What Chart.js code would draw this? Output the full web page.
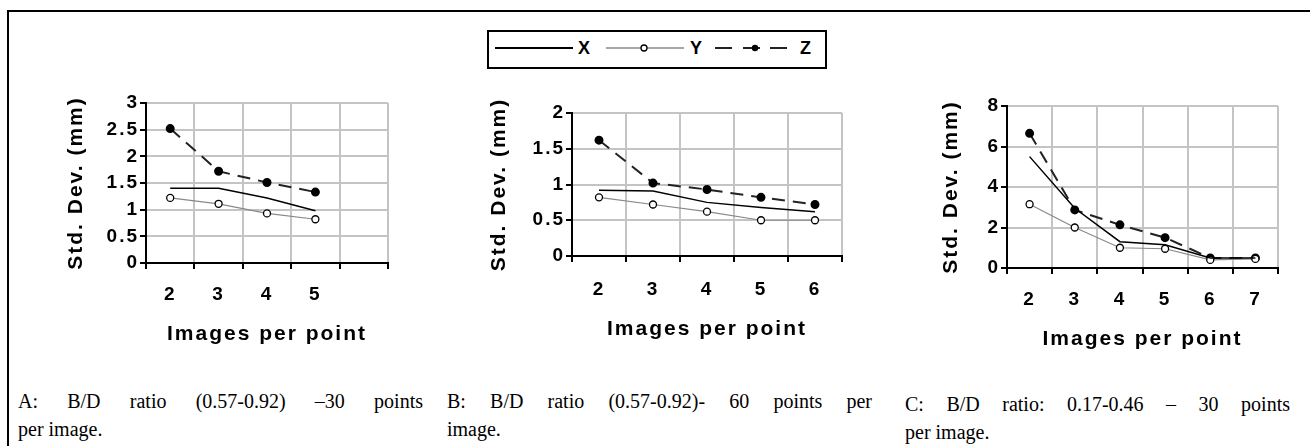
<!DOCTYPE html>
<html lang="en">
<head>
<meta charset="UTF-8" />
<title>Std. Dev. vs images per point</title>
<script src="https://cdn.jsdelivr.net/npm/chart.js"></script>
<style>
  body { margin: 0; width: 1310px; height: 446px; background: #fff; position: relative; overflow: hidden; }
  .frame { position: absolute; left: 7px; top: 10px; width: 1400px; height: 500px; border-top: 2px solid #000; border-left: 2px solid #000; }
  canvas { position: absolute; }
  .legend { position: absolute; left: 487px; top: 30px; width: 340px; height: 39px; box-sizing: border-box; border: 2px solid #000; background: #fff; }
  .legend svg { position: absolute; left: 0; top: 0; }
  .legend span { position: absolute; top: 5px; font: bold 18px "Liberation Sans", Arial, sans-serif; line-height: 22px; }
  .cap { position: absolute; font: 20px "Liberation Serif", "Times New Roman", serif; line-height: 22px; white-space: nowrap; }
  .cap.j { text-align: justify; text-align-last: justify; white-space: normal; }
</style>
</head>
<body>
  <div class="frame"></div>

  <!-- shared legend -->
  <div class="legend">
    <svg width="336" height="35">
      <line x1="6" y1="16" x2="84" y2="16" stroke="#000" stroke-width="2" />
      <line x1="117" y1="16" x2="195" y2="16" stroke="#888" stroke-width="1.5" />
      <circle cx="155" cy="16" r="3" fill="#fff" stroke="#000" stroke-width="1.3" />
      <line x1="226" y1="16" x2="243" y2="16" stroke="#222" stroke-width="2" />
      <line x1="254" y1="16" x2="271" y2="16" stroke="#222" stroke-width="2" />
      <line x1="281" y1="16" x2="298" y2="16" stroke="#222" stroke-width="2" />
      <circle cx="266" cy="16" r="3.2" fill="#000" />
    </svg>
    <span style="left:89px">X</span>
    <span style="left:201px">Y</span>
    <span style="left:311px">Z</span>
  </div>

  <canvas id="chartA" width="370" height="268" style="left:30px;top:85px"></canvas>
  <canvas id="chartB" width="400" height="256" style="left:455px;top:90px"></canvas>
  <canvas id="chartC" width="390" height="268" style="left:900px;top:90px"></canvas>

  <div class="cap j" style="left:18px;top:390px;width:405px">A: B/D ratio (0.57-0.92) –30 points</div>
  <div class="cap" style="left:18px;top:418px">per image.</div>
  <div class="cap j" style="left:447px;top:390px;width:425px">B: B/D ratio (0.57-0.92)- 60 points per</div>
  <div class="cap" style="left:447px;top:418px">image.</div>
  <div class="cap j" style="left:905px;top:393px;width:385px">C: B/D ratio: 0.17-0.46 – 30 points</div>
  <div class="cap" style="left:905px;top:421px">per image.</div>

<script>
  // Chart A: 30 points per image
  const catsA = ['2', '3', '4', '5', ''];
  const xA = [1.4, 1.4, 1.22, 0.98];
  const yA = [1.22, 1.11, 0.93, 0.82];
  const zA = [2.52, 1.72, 1.51, 1.33];

  // Chart B: 60 points per image
  const catsB = ['2', '3', '4', '5', '6'];
  const xB = [0.92, 0.91, 0.75, 0.68, 0.62];
  const yB = [0.82, 0.72, 0.62, 0.5, 0.5];
  const zB = [1.62, 1.02, 0.93, 0.82, 0.72];

  // Chart C: B/D ratio 0.17-0.46
  const catsC = ['2', '3', '4', '5', '6', '7'];
  const xC = [5.5, 2.95, 1.3, 1.15, 0.5, 0.5];
  const yC = [3.15, 2.0, 1.0, 0.95, 0.4, 0.45];
  const zC = [6.65, 2.87, 2.13, 1.5, 0.5, 0.5];

  const yTitle = 'Std. Dev. (mm)';
  const xTitle = 'Images per point';

  const labelFont = 'Liberation Sans, Arial, sans-serif';

  // canvas letter spacing, the original axis font is a wide bitmap one
  const spacing = {
    id: 'spacing',
    beforeDraw(chart) { chart.ctx.letterSpacing = '2px'; }
  };

  function makeChart(id, cats, x, y, z, yMax, step, lay) {
    const ctx = document.getElementById(id).getContext('2d');
    return new Chart(ctx, {
      type: 'line',
      data: {
        labels: cats,
        datasets: [
          {
            label: 'X', data: x,
            borderColor: '#000', borderWidth: 1.5,
            pointRadius: 0, tension: 0
          },
          {
            label: 'Y', data: y,
            borderColor: '#888', borderWidth: 1.2,
            pointRadius: 3.5, pointBackgroundColor: '#fff',
            pointBorderColor: '#000', pointBorderWidth: 1.3, tension: 0
          },
          {
            label: 'Z', data: z,
            borderColor: '#222', borderWidth: 2, borderDash: [13, 8],
            pointRadius: 3.5, pointBackgroundColor: '#000',
            pointBorderColor: '#000', tension: 0
          }
        ]
      },
      options: {
        responsive: false,
        animation: false,
        devicePixelRatio: 1,
        layout: { padding: { top: lay.top, right: lay.right, left: 0, bottom: 0 } },
        plugins: { legend: { display: false }, tooltip: { enabled: false } },
        scales: {
          x: {
            offset: true,
            grid: { offset: true, color: '#c4c4c4', lineWidth: 2, tickColor: '#000', tickLength: 6 },
            border: { color: '#000', width: 2 },
            ticks: { color: '#000', padding: lay.tickPad, font: { family: labelFont, size: 19, weight: 'bold' } },
            title: {
              display: true, text: xTitle, color: '#000',
              padding: { top: 0, bottom: lay.xTitlePad },
              font: { family: labelFont, size: 21, weight: 'bold' }
            },
            afterFit(scale) { scale.height = 90; }
          },
          y: {
            min: 0, max: yMax,
            grid: { color: '#c4c4c4', lineWidth: 2, tickColor: '#000', tickLength: 6 },
            border: { color: '#000', width: 2 },
            ticks: {
              stepSize: step, color: '#000', padding: 1,
              font: { family: labelFont, size: 19, weight: 'bold' },
              callback: function(value) { return String(value); }
            },
            title: {
              display: true, text: yTitle, color: '#000',
              padding: { top: lay.yTitlePad, bottom: 0 },
              font: { family: labelFont, size: 21, weight: 'bold' }
            },
            afterFit(scale) { scale.width = lay.yWidth; }
          }
        }
      },
      plugins: [spacing]
    });
  }

  makeChart('chartA', catsA, xA, yA, zA, 3, 0.5,
    { top: 18, right: 12, yWidth: 116, yTitlePad: 34, xTitlePad: 6, tickPad: 14.6 });
  makeChart('chartB', catsB, xB, yB, zB, 2, 0.5,
    { top: 23, right: 13, yWidth: 117, yTitlePad: 32, xTitlePad: 4, tickPad: 16.6 });
  makeChart('chartC', catsC, xC, yC, zC, 8, 2,
    { top: 16, right: 12, yWidth: 107, yTitlePad: 39, xTitlePad: 6, tickPad: 14.6 });
</script>
</body>
</html>
